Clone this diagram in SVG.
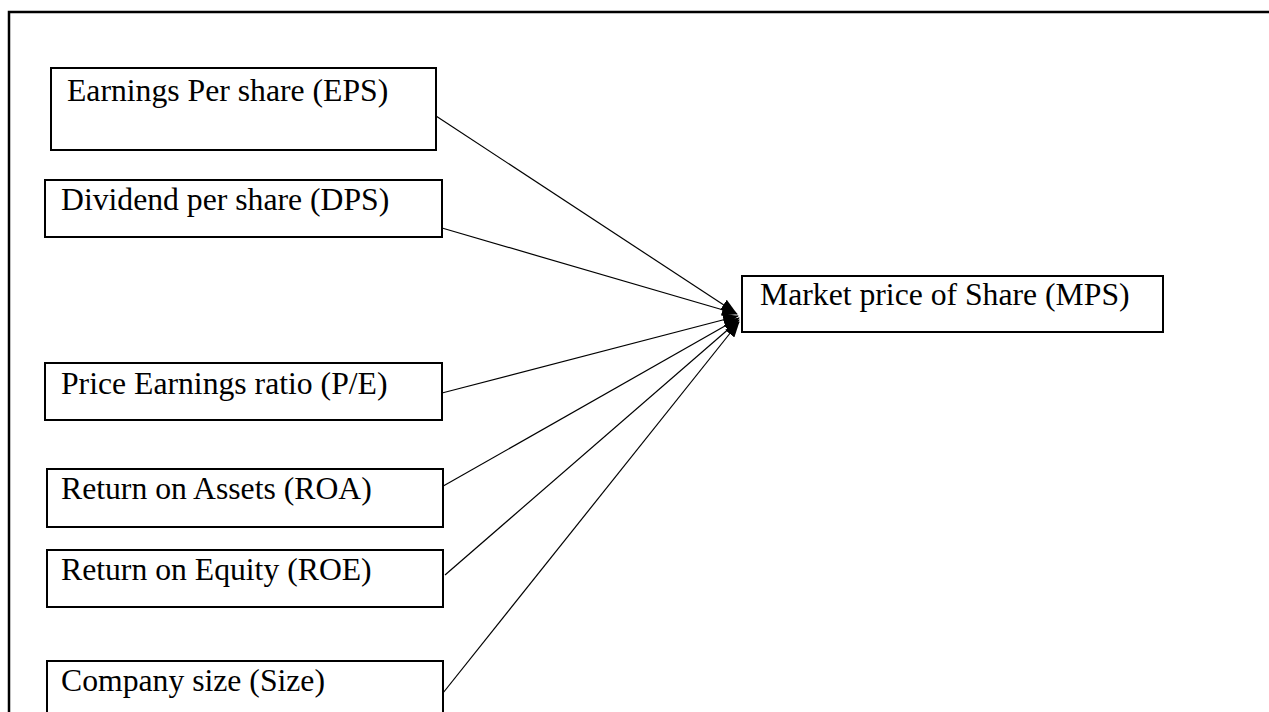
<svg xmlns="http://www.w3.org/2000/svg" width="1269" height="712" viewBox="0 0 1269 712">
<style>
.frame{fill:none;stroke:#000;stroke-width:2.5}
.box{fill:#fff;stroke:#000;stroke-width:2}
.lbl{font-family:"Liberation Serif","Times New Roman",serif;font-size:31.7px;fill:#000}
.conn{stroke:#000;stroke-width:1.2;fill:none;marker-end:url(#ah)}
</style>
<defs>
<marker id="ah" viewBox="0 0 16 12" refX="15" refY="6" markerWidth="16" markerHeight="12" markerUnits="userSpaceOnUse" orient="auto">
<path d="M0,0 L16,6 L0,12 z" fill="#000"/>
</marker>
</defs>
<rect width="1269" height="712" fill="#fff"/>
<rect class="frame" x="9" y="12" width="1275" height="720"/>
<g id="connectors">
<line class="conn" x1="436" y1="116" x2="736" y2="313"/>
<line class="conn" x1="442" y1="228" x2="737" y2="314"/>
<line class="conn" x1="442" y1="393" x2="738" y2="316"/>
<line class="conn" x1="438" y1="489" x2="739" y2="318"/>
<line class="conn" x1="445" y1="575" x2="739" y2="320"/>
<line class="conn" x1="443" y1="693" x2="739" y2="322"/>
</g>
<g id="eps"><rect class="box" x="51" y="68" width="385" height="82"/><text class="lbl" x="67" y="101">Earnings Per share (EPS)</text></g>
<g id="dps"><rect class="box" x="45" y="180" width="397" height="57"/><text class="lbl" x="61" y="210">Dividend per share (DPS)</text></g>
<g id="pe"><rect class="box" x="45" y="363" width="397" height="57"/><text class="lbl" x="61" y="394">Price Earnings ratio (P/E)</text></g>
<g id="roa"><rect class="box" x="47" y="469" width="396" height="58"/><text class="lbl" x="61" y="499">Return on Assets (ROA)</text></g>
<g id="roe"><rect class="box" x="47" y="550" width="396" height="57"/><text class="lbl" x="61" y="580">Return on Equity (ROE)</text></g>
<g id="size"><rect class="box" x="47" y="661" width="396" height="60"/><text class="lbl" x="61" y="691">Company size (Size)</text></g>
<g id="mps"><rect class="box" x="742" y="276" width="421" height="56"/><text class="lbl" x="760" y="305">Market price of Share (MPS)</text></g>
</svg>
